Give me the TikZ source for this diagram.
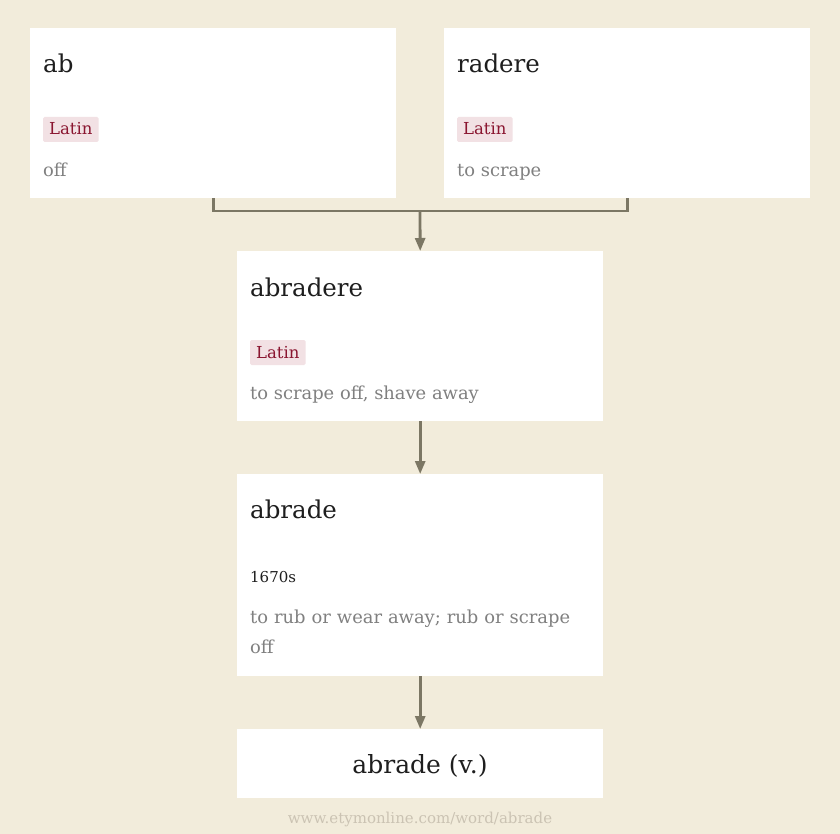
\documentclass[tikz,border=0pt]{standalone}
\usepackage{fontspec}
\setmainfont{DejaVu Serif}
\usetikzlibrary{arrows.meta}
\definecolor{bg}{HTML}{F2ECDB}
\definecolor{linec}{HTML}{7C7764}
\definecolor{tagbg}{HTML}{F2E1E4}
\definecolor{tagfg}{HTML}{8A1530}
\definecolor{gloss}{HTML}{808080}
\definecolor{ttl}{HTML}{1E1E1E}
\definecolor{foot}{HTML}{CBC3B3}
\tikzset{
  box/.style={fill=white, draw=none, anchor=north west, inner sep=0pt},
  ttlt/.style={anchor=base west, inner sep=0pt, text=ttl, font=\fontsize{24.5}{28}\selectfont},
  tagt/.style={anchor=base west, fill=tagbg, text=tagfg, inner xsep=6pt, inner ysep=0pt,
    text height=18pt, text depth=7pt, rounded corners=1.5pt, font=\fontsize{16.5}{18}\selectfont},
  glosst/.style={anchor=base west, inner sep=0pt, text=gloss, font=\fontsize{17.9}{30}\selectfont},
  datet/.style={anchor=base west, inner sep=0pt, text=ttl, font=\fontsize{15}{18}\selectfont},
  conn/.style={draw=linec, line width=2.8pt},
  arr/.style={conn, -{Triangle[length=13pt,width=10pt]}, shorten >=0pt},
}
\begin{document}
\begin{tikzpicture}[x=1pt,y=-1pt]
\fill[bg] (0,0) rectangle (840,834);
\useasboundingbox (0,0) rectangle (840,834);
% boxes
\node[box, minimum width=366pt, minimum height=170pt] (ab) at (30,28) {};
\node[box, minimum width=366pt, minimum height=170pt] (radere) at (444,28) {};
\node[box, minimum width=366pt, minimum height=170pt] (abradere) at (237,251) {};
\node[box, minimum width=366pt, minimum height=202pt] (abrade) at (237,474) {};
\node[box, minimum width=366pt, minimum height=69pt] (abradev) at (237,729) {};
% ab
\node[ttlt] (abT) at (43,73) {ab};
\node[tagt] (abL) at (43,135) {Latin};
\node[glosst] (abG) at (43,177) {off};
% radere
\node[ttlt] (raT) at (457,73) {radere};
\node[tagt] (raL) at (457,135) {Latin};
\node[glosst] (raG) at (457,177) {to scrape};
% abradere
\node[ttlt] (adT) at (250,296) {abradere};
\node[tagt] (adL) at (250,358) {Latin};
\node[glosst] (adG) at (250,399) {to scrape off, shave away};
% abrade
\node[ttlt] (aT) at (250,518) {abrade};
\node[datet] (aD) at (250,582) {1670s};
\node[glosst, align=left, text width=340pt] (aG) at (250,623) {to rub or wear away; rub or scrape\\off};
% final
\node[anchor=base, inner sep=0pt, text=ttl, font=\fontsize{25}{28}\selectfont] (avT) at (420,773) {abrade (v.)};
\node[anchor=base, inner sep=0pt, text=foot, font=\fontsize{15}{16}\selectfont] (ft) at (420,823) {www.etymonline.com/word/abrade};
% connectors
\coordinate (j) at (420,211);
\draw[conn] (ab.south) |- (j) -| (radere.south);
\draw[arr] (j) -- (abradere.north);
\draw[arr] (abradere.south) -- (abrade.north);
\draw[arr] (abrade.south) -- (abradev.north);
\end{tikzpicture}
\end{document}
